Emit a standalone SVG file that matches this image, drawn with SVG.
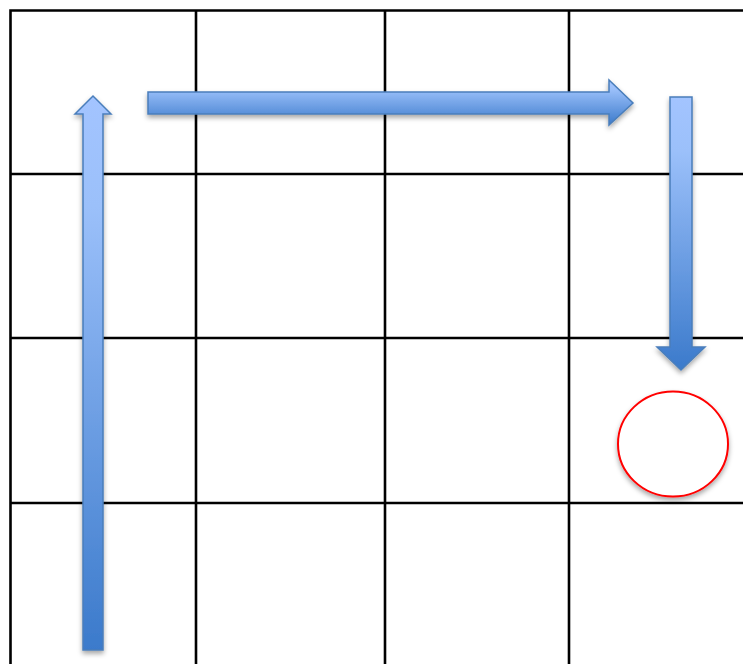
<svg xmlns="http://www.w3.org/2000/svg" width="743" height="664" viewBox="0 0 743 664">
<style>
.grid{stroke:#000;stroke-width:2.6;fill:none}
.arrow{stroke:#4a7ebb;stroke-width:1.5;filter:url(#sh)}
</style>
<defs>
<linearGradient id="gv" x1="0" y1="0" x2="0" y2="1">
<stop offset="0" stop-color="#a3c4ff"/>
<stop offset="0.2" stop-color="#9bc0fa"/>
<stop offset="1" stop-color="#3b7acb"/>
</linearGradient>
<filter id="sh" x="-50%" y="-50%" width="200%" height="200%">
<feDropShadow dx="0" dy="3" stdDeviation="2.5" flood-color="#000" flood-opacity="0.35"/>
</filter>
</defs>
<g id="grid">
<path class="grid" d="M10.5 664V10.5H743M196 10.5V664M385 10.5V664M569 10.5V664M10.5 174H743M10.5 338H743M10.5 503H743"/>
</g>
<g id="connectors">
<g id="arrow-up"><polygon class="arrow" fill="url(#gv)" points="83,650 103,650 103,114 111,114 93,96 75,114 83,114"/></g>
<g id="arrow-right"><polygon class="arrow" fill="url(#gv)" points="148,92 609,92 609,80 633,103 609,125 609,114 148,114"/></g>
<g id="arrow-down"><polygon class="arrow" fill="url(#gv)" points="670,97 692,97 692,347 705,347 681,370 657,347 670,347"/></g>
</g>
<g id="target">
<ellipse cx="673" cy="444" rx="55" ry="52.5" fill="#fff" stroke="#ff0000" stroke-width="2" filter="url(#sh)"/>
</g>
</svg>
